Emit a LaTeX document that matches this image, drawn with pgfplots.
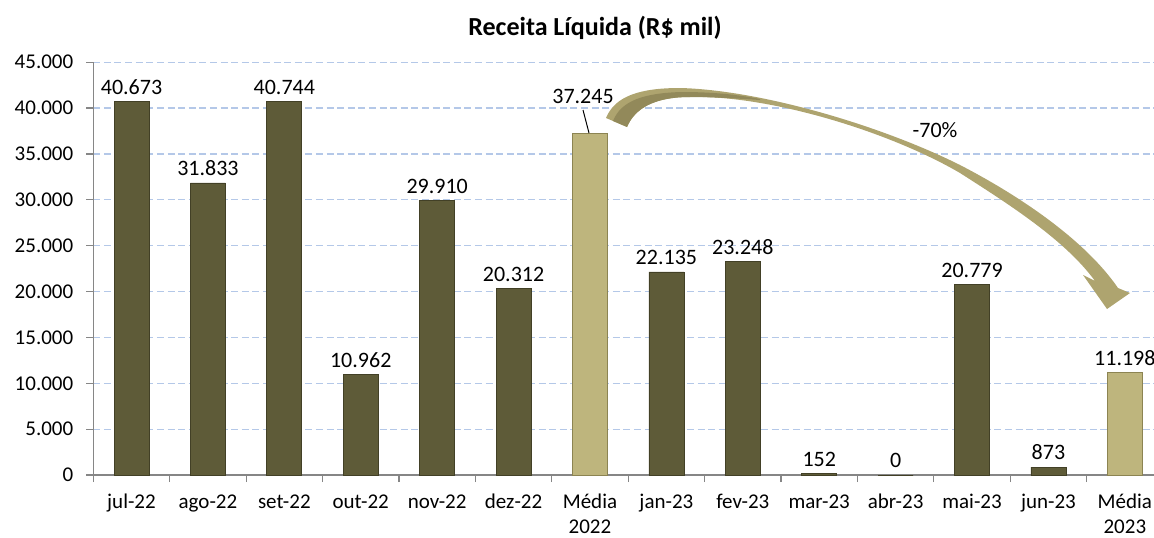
\documentclass[border=0pt]{standalone}
\usepackage{fontspec}
\setmainfont{Carlito}
\usepackage{pgfplots}
\pgfplotsset{compat=1.18}

\definecolor{barDark}{RGB}{94,91,56}
\definecolor{barDarkEdge}{RGB}{66,64,38}
\definecolor{barLight}{RGB}{190,181,125}
\definecolor{barLightEdge}{RGB}{140,132,82}
\definecolor{arrowCol}{RGB}{174,164,111}
\definecolor{arrowDark}{RGB}{146,137,90}
\definecolor{gridBlue}{RGB}{180,200,232}
\definecolor{axisGray}{RGB}{134,134,134}

\begin{document}
\begin{tikzpicture}
\begin{axis}[
  scale only axis,
  width=530.3pt, height=206.4pt,
  ymin=0, ymax=45000,
  xmin=-0.5, xmax=13.38,
  ytick={0,5000,...,45000},
  xtick={0,...,13},
  xticklabels={jul-22,ago-22,set-22,out-22,nov-22,dez-22,Média\\2022,jan-23,fev-23,mar-23,abr-23,mai-23,jun-23,Média\\2023},
  minor xtick={-0.5,0.5,...,12.5},
  major x tick style={draw=none},
  minor tick length=3.5pt,
  major tick length=3.5pt,
  tick align=outside,
  tick style={axisGray, line width=0.6pt},
  axis x line*=bottom,
  axis y line*=left,
  axis line style={axisGray, line width=0.6pt, -},
  ymajorgrids,
  grid style={gridBlue, dash pattern=on 3.5pt off 1.8pt, line width=0.6pt},
  /pgf/number format/.cd, fixed, precision=0, 1000 sep={.}, assume math mode=true,
  /pgfplots/.cd,
  scaled y ticks=false,
  yticklabel style={font=\fontsize{10.5}{12}\selectfont, xshift=-3pt},
  xticklabel style={font=\fontsize{10.5}{12.3}\selectfont, align=center, inner sep=0.5pt, yshift=-5.5pt},
  ybar, bar width=17.5pt, bar shift=0pt,
  nodes near coords,
  nodes near coords style={font=\fontsize{11}{13}\selectfont, text=black},
  title={\textbf{Receita Líquida (R\$ mil)}},
  title style={at={(0.473,1)}, anchor=center, yshift=11pt, font=\fontsize{13}{15}\selectfont},
  clip=false,
]
\addplot[fill=barDark, draw=barDarkEdge, line width=0.4pt] coordinates {
  (0,40673) (1,31833) (2,40744) (3,10962) (4,29910) (5,20312)
  (7,22135) (8,23248) (9,152) (10,0) (11,20779) (12,873)
};
\addplot[fill=barLight, draw=barLightEdge, line width=0.4pt] coordinates {
  (13,11198)
};
\addplot[fill=barLight, draw=barLightEdge, line width=0.4pt, nodes near coords=] coordinates {
  (6,37245)
};
\end{axis}
% annotations in reference pixel units
\begin{scope}[x=0.5pt, y=-0.5pt, xshift=-46.65pt, yshift=237.5pt]
  \draw[black, line width=0.5pt] (583,110) -- (589,133);
  \node[font=\fontsize{11}{13}\selectfont] at (583,96) {37.245};
  % curved arrow
  \fill[arrowCol]
    (606,118) .. controls (615,96) and (640,88) .. (680,88)
    .. controls (760,90) and (880,125) .. (960,165)
    .. controls (1020,196) and (1085,240) .. (1118,288)
    -- (1130,293) -- (1107,309) -- (1083,275) -- (1095,281)
    .. controls (1065,240) and (1010,205) .. (960,173)
    .. controls (890,132) and (770,95) .. (690,97)
    .. controls (655,97) and (635,108) .. (627,127)
    -- cycle;
  \fill[arrowDark]
    (613,121) .. controls (621,101) and (643,93) .. (682,92)
    .. controls (715,92) and (740,95) .. (760,99)
    -- (760,100) .. controls (730,98) and (710,97) .. (690,97)
    .. controls (655,97) and (635,108) .. (627,127)
    -- cycle;
  \node[font=\fontsize{11}{13}\selectfont] at (935,130) {-70\%};
  \pgfresetboundingbox
  \path[use as bounding box] (0,0) rectangle (1154,537);
\end{scope}
\end{tikzpicture}
\end{document}
